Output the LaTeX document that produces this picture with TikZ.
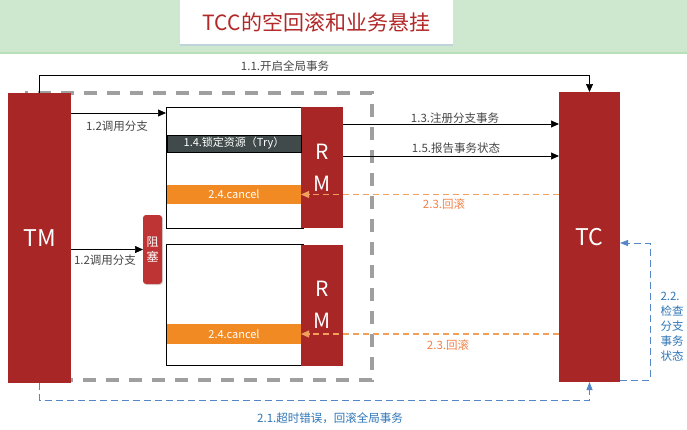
\documentclass[tikz,border=0pt]{standalone}
\usepackage{fontspec}
\setmainfont{Noto Sans CJK SC}
\usetikzlibrary{arrows.meta,positioning,shadows}
\definecolor{tmred}{RGB}{168,38,38}
\definecolor{blkred}{RGB}{190,52,52}
\definecolor{trygray}{RGB}{64,74,74}
\definecolor{cancelor}{RGB}{242,138,36}
\definecolor{dashor}{RGB}{240,160,90}
\definecolor{dashbl}{RGB}{85,135,200}
\definecolor{txtbl}{RGB}{46,117,182}
\definecolor{labgray}{RGB}{70,70,70}
\definecolor{hdrgreen}{RGB}{205,232,207}
\definecolor{titlered}{RGB}{178,40,40}

\begin{document}
\begin{tikzpicture}[x=1pt,y=-1pt,
every node/.style={inner sep=0pt,outer sep=0pt},
blk/.style={fill=tmred,text=white,font=\fontsize{23}{23}\selectfont},
rm/.style={fill=tmred,text=white,align=center,minimum width=42,minimum height=121,font=\fontsize{21}{32}\selectfont},
wbox/.style={draw=black,line width=0.8pt,fill=white,minimum width=137,minimum height=121},
bar/.style={minimum width=134,text=white,font=\fontsize{11}{11}\selectfont},
lab/.style={text=labgray,font=\fontsize{11.5}{12}\selectfont},
arr/.style={-{Triangle[length=8pt,width=7pt]},line width=0.7pt},
orarr/.style={-{Triangle[length=8pt,width=7pt]},draw=dashor,line width=1.1pt,dash pattern=on 6pt off 4pt},
blarr/.style={-{Triangle[length=8pt,width=6pt]},draw=dashbl,line width=0.9pt,dash pattern=on 7pt off 4pt}]
\useasboundingbox (0,0) rectangle (687,429);

\fill[hdrgreen] (0,0) rectangle (687,52);
\draw[gray!60!green!40,line width=2pt] (0,53)--(687,53);
\node[fill=white,minimum width=273,minimum height=44,text=titlered,font=\fontsize{21}{21}\selectfont,
drop shadow={fill=cyan!40!blue!30,shadow xshift=0pt,shadow yshift=-2pt}] (T) at (316.5,22) {TCC的空回滚和业务悬挂};

\draw[gray!75,line width=4pt,dash pattern=on 13pt off 10pt] (25,93) rectangle (372,380);

\node[blk,minimum width=63,minimum height=290] (TM) at (39.5,238) {TM};
\node[blk,minimum width=61,minimum height=290] (TC) at (589.5,237) {TC};

\node[wbox] (B1) at (234.5,167.5) {};
\node[wbox] (B2) at (234.5,305) {};
\node[rm] (R1) at (322,167.5) {R\\M};
\node[rm] (R2) at (322,305) {R\\M};
\node[bar,draw=black,fill=trygray,minimum height=17] (TRY) at (234,143.5) {1.4.锁定资源（Try）};
\node[bar,fill=cancelor,minimum height=19] (C1) at (234,194.5) {2.4.cancel};
\node[bar,fill=cancelor,minimum height=20] (C2) at (234,334) {2.4.cancel};
\node[fill=blkred,rounded corners=3pt,minimum width=19,minimum height=69,text=white,align=center,
font=\fontsize{12}{15}\selectfont,drop shadow={opacity=0.3,shadow xshift=1pt,shadow yshift=-1pt}] (Z) at (152.5,249.5) {阻\\塞};

\draw[arr] (TM.north)--++(0,-18)-|(TC.north);
\draw[arr] (TM.east |- 0,113)--(B1.west |- 0,113);
\draw[arr] (TM.east |- Z.west)--(Z.west);
\draw[arr] (R1.east |- 0,124)--(TC.west |- 0,124);
\draw[arr] (R1.east |- 0,156)--(TC.west |- 0,156);
\draw[orarr] (TC.west |- C1.east)--(C1.east);
\draw[orarr] (TC.west |- C2.east)--(C2.east);
\draw[blarr] (TM.south)--++(0,17)-|(TC.south);
\draw[blarr] ([yshift=2pt]TC.south east)--++(30,0)|-(TC.east |- 0,243);

\node[lab] (L11) at (285,66) {1.1.开启全局事务};
\node[lab] (L12a) at (117,126) {1.2调用分支};
\node[lab] (L12b) at (105,260) {1.2调用分支};
\node[lab] (L13) at (455,118) {1.3.注册分支事务};
\node[lab] (L15) at (456,148) {1.5.报告事务状态};
\node[lab,text=dashor!80!red] (L23a) at (444,204) {2.3.回滚};
\node[lab,text=dashor!80!red] (L23b) at (448,345) {2.3.回滚};
\node[lab,text=txtbl] (L21) at (330,418) {2.1.超时错误，回滚全局事务};
\node[lab,text=txtbl,align=left,font=\fontsize{11.5}{15}\selectfont] (L22) at (672,327) {2.2.\\检查\\分支\\事务\\状态};

\end{tikzpicture}
\end{document}
